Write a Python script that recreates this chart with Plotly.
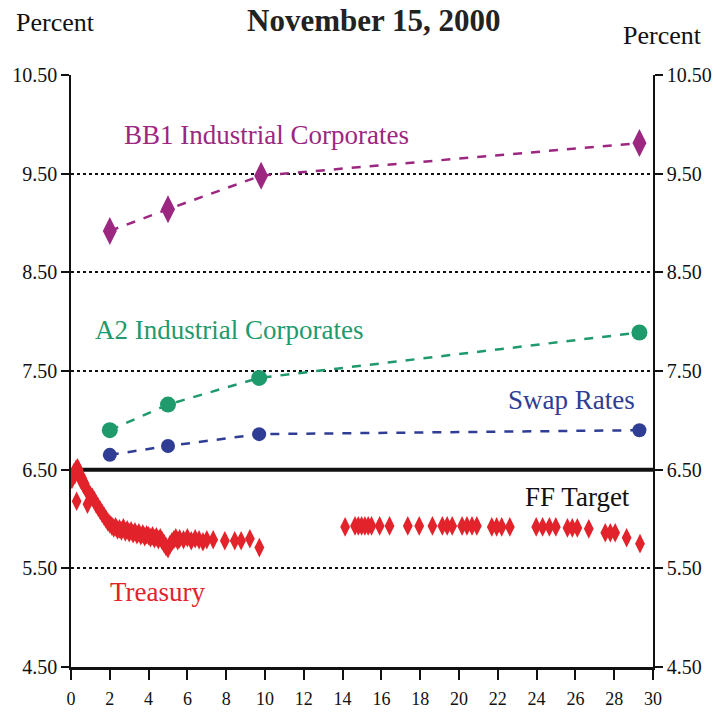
import plotly.graph_objects as go

# ---- data ----
bb1_maturity = [2, 5, 9.8, 29.3]
bb1_yield = [8.92, 9.14, 9.48, 9.81]

a2_maturity = [2, 5, 9.7, 29.3]
a2_yield = [6.90, 7.16, 7.43, 7.89]

swap_maturity = [2, 5, 9.7, 29.3]
swap_yield = [6.65, 6.74, 6.86, 6.90]

ff_maturity = [0, 30]
ff_target = [6.50, 6.50]

treasury_maturity = [
    0.05, 0.10, 0.15, 0.20, 0.25, 0.29, 0.33, 0.38, 0.42, 0.46, 0.50, 0.55,
    0.60, 0.65, 0.70, 0.75, 0.80, 0.85, 0.90, 1.00, 1.10, 1.20, 1.30, 1.40,
    1.50, 1.60, 1.70, 1.80, 1.90, 2.00, 2.10, 2.20, 2.30, 2.40, 2.50, 2.60,
    2.70, 2.80, 2.90, 3.00, 3.10, 3.20, 3.30, 3.40, 3.50, 3.60, 3.70, 3.80,
    3.90, 4.00, 4.10, 4.20, 4.30, 4.40, 4.50, 4.60, 4.70, 4.80, 4.90, 5.00,
    5.10, 5.20, 5.30, 5.40, 5.50, 5.60, 5.80, 6.00, 6.20, 6.40, 6.60, 6.80,
    7.00, 7.33, 7.93, 8.44, 8.77, 9.22, 9.71,
    14.13, 14.64, 14.81, 14.98, 15.15, 15.32, 15.49, 15.91, 16.42, 17.36,
    17.95, 18.63, 19.14, 19.39, 19.65, 20.16, 20.41, 20.67, 20.92, 21.69,
    21.94, 22.20, 22.62, 23.98, 24.31, 24.66, 24.99, 25.59, 25.84, 26.10,
    26.69, 27.54, 27.80, 28.05, 28.64, 29.33,
]
treasury_yield = [
    6.40, 6.44, 6.47, 6.45, 6.50, 6.18, 6.52, 6.50, 6.47, 6.44, 6.40, 6.42,
    6.38, 6.35, 6.36, 6.32, 6.30, 6.15, 6.27, 6.24, 6.22, 6.19, 6.15, 6.12,
    6.09, 6.06, 6.03, 6.00, 5.97, 5.95, 5.93, 5.91, 5.92, 5.89, 5.90, 5.88,
    5.91, 5.87, 5.89, 5.86, 5.88, 5.85, 5.87, 5.84, 5.86, 5.83, 5.85, 5.82,
    5.84, 5.83, 5.81, 5.83, 5.80, 5.82, 5.79, 5.81, 5.78, 5.75, 5.72, 5.70,
    5.74, 5.77, 5.79, 5.81, 5.78, 5.80, 5.79, 5.81, 5.78, 5.80, 5.79, 5.77,
    5.79, 5.79, 5.78, 5.78, 5.78, 5.80, 5.71,
    5.92, 5.93, 5.93, 5.93, 5.93, 5.93, 5.93, 5.93, 5.93, 5.93,
    5.93, 5.93, 5.93, 5.93, 5.93, 5.93, 5.93, 5.93, 5.93, 5.92,
    5.92, 5.92, 5.92, 5.92, 5.92, 5.92, 5.92, 5.91, 5.91, 5.91,
    5.90, 5.86, 5.86, 5.86, 5.81, 5.75,
]

y_ticks = [4.5, 5.5, 6.5, 7.5, 8.5, 9.5, 10.5]
x_ticks = list(range(0, 31, 2))

# ---- colours ----
C_BB1 = "#9c2780"
C_A2 = "#1f9a6c"
C_SWAP = "#2f3d94"
C_TSY = "#e2232b"
FONT = "Liberation Serif"

fig = go.Figure()

fig.add_trace(go.Scatter(
    x=ff_maturity, y=ff_target, mode="lines",
    line=dict(color="#111111", width=4), hoverinfo="skip", showlegend=False))

fig.add_trace(go.Scatter(
    x=treasury_maturity, y=treasury_yield, mode="markers",
    marker=dict(symbol="diamond-tall", size=14, color=C_TSY, line=dict(width=0)),
    showlegend=False))

fig.add_trace(go.Scatter(
    x=swap_maturity, y=swap_yield, mode="lines+markers",
    line=dict(color=C_SWAP, width=2.5, dash="dash"),
    marker=dict(symbol="circle", size=14, color=C_SWAP), showlegend=False))

fig.add_trace(go.Scatter(
    x=a2_maturity, y=a2_yield, mode="lines+markers",
    line=dict(color=C_A2, width=2.5, dash="dash"),
    marker=dict(symbol="circle", size=16, color=C_A2), showlegend=False))

fig.add_trace(go.Scatter(
    x=bb1_maturity, y=bb1_yield, mode="lines+markers",
    line=dict(color=C_BB1, width=2.5, dash="dash"),
    marker=dict(symbol="diamond-tall", size=20, color=C_BB1), showlegend=False))

# invisible trace for right axis
fig.add_trace(go.Scatter(x=[None], y=[None], yaxis="y2", showlegend=False))

axis_font = dict(family=FONT, size=20, color="#111111")
LBL = 27

fig.update_layout(
    width=724, height=721,
    margin=dict(l=65, r=70, t=75, b=50),
    paper_bgcolor="white", plot_bgcolor="white",
    font=dict(family=FONT, color="#111111"),
    xaxis=dict(range=[0, 30], tickvals=x_ticks, ticks="outside", ticklen=10,
               tickwidth=1.5, tickcolor="#111111", showline=True,
               linecolor="#111111", linewidth=3, showgrid=False, zeroline=False,
               ticklabelstandoff=3,
               tickfont=dict(family=FONT, size=18, color="#111111"), mirror=False),
    yaxis=dict(range=[4.5, 10.5], tickvals=y_ticks, tickformat=".2f",
               ticks="outside", ticklen=8, tickwidth=1.5, tickcolor="#111111",
               showline=True, linecolor="#111111", linewidth=1.5,
               showgrid=True, gridcolor="#111111", gridwidth=2, griddash="dot",
               zeroline=False, tickfont=axis_font),
    yaxis2=dict(range=[4.5, 10.5], tickvals=y_ticks, tickformat=".2f",
                overlaying="y", side="right", ticks="outside", ticklen=8,
                tickwidth=1.5, tickcolor="#111111", showline=True,
                linecolor="#111111", linewidth=1.5, showgrid=False,
                zeroline=False, tickfont=axis_font),
    annotations=[
        dict(text="<b>November 15, 2000</b>", x=0.52, y=1.0, xref="paper", yref="paper",
             xanchor="center", yanchor="middle", yshift=55, showarrow=False,
             font=dict(family=FONT, size=31, color="#222222")),
        dict(text="Percent", x=-0.027, y=1.0, xref="paper", yref="paper",
             xanchor="center", yanchor="middle", yshift=53, showarrow=False,
             font=dict(family=FONT, size=26, color="#111111")),
        dict(text="Percent", x=1.017, y=1.0, xref="paper", yref="paper",
             xanchor="center", yanchor="middle", yshift=40, showarrow=False,
             font=dict(family=FONT, size=26, color="#111111")),
        dict(text="BB1 Industrial Corporates", x=10.1, y=9.89, showarrow=False,
             font=dict(family=FONT, size=LBL, color=C_BB1)),
        dict(text="A2 Industrial Corporates", x=8.15, y=7.92, showarrow=False,
             font=dict(family=FONT, size=LBL, color=C_A2)),
        dict(text="Swap Rates", x=25.8, y=7.21, showarrow=False,
             font=dict(family=FONT, size=LBL, color=C_SWAP)),
        dict(text="FF Target", x=26.1, y=6.22, showarrow=False,
             font=dict(family=FONT, size=LBL, color="#111111")),
        dict(text="Treasury", x=4.5, y=5.26, showarrow=False,
             font=dict(family=FONT, size=LBL, color=C_TSY)),
    ],
)

fig.write_html("out.html", config={"displayModeBar": False},
               post_script="document.body.style.margin='0';")
